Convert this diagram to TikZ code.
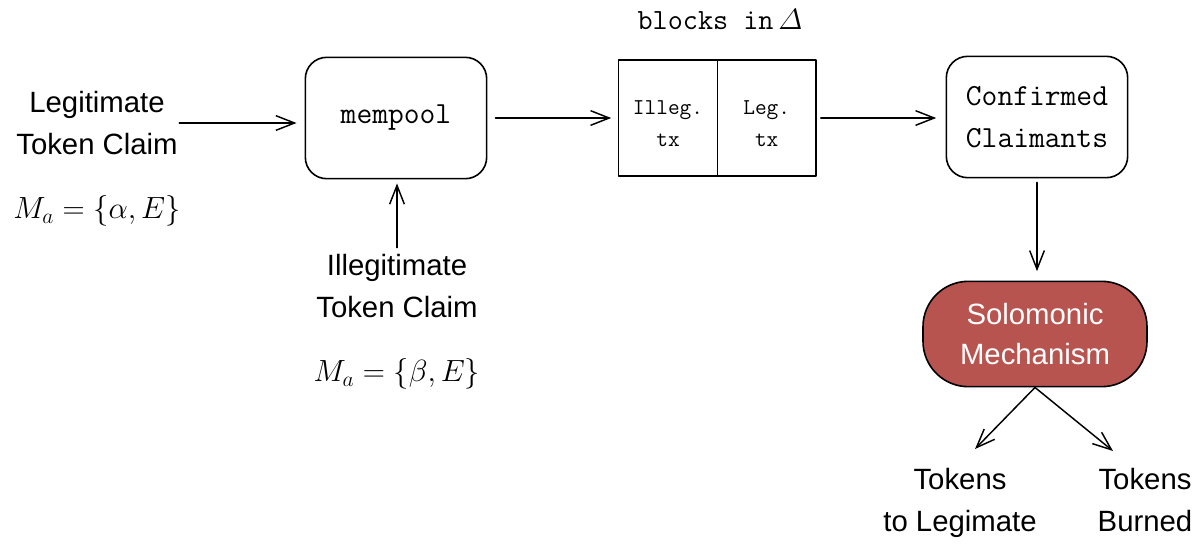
\documentclass[tikz,border=0pt]{standalone}
\usepackage{fix-cm}
\usepackage{amsmath}
\usepackage{fontspec}
\setsansfont{Liberation Sans}
\usetikzlibrary{arrows.meta,positioning}
\definecolor{merahsolomon}{HTML}{B85450}

\begin{document}
\begin{tikzpicture}[line join=round, line cap=round]
    % Satu satuan = satu piksel (sumbu y ke bawah)
    \tikzset{
      x={(0.75pt,0pt)},
      y={(0pt,-0.75pt)},
      teks/.style={font=\sffamily\fontsize{22}{31}\selectfont, align=center, inner sep=1pt},
      rumus/.style={font=\fontsize{23}{28}\selectfont, inner sep=1pt},
      kotak/.style={draw, line width=1.2pt, rounded corners=16pt, minimum width=136pt,
        minimum height=91pt, inner sep=0pt, align=center,
        font=\ttfamily\fontsize{23}{31.5}\selectfont},
      blok/.style={draw, line width=1.2pt, minimum width=74pt, minimum height=87pt,
        inner sep=0pt, align=center, font=\ttfamily\fontsize{17}{24}\selectfont},
      solomon/.style={draw, line width=1.2pt, fill=merahsolomon, text=white,
        rounded corners=34pt, minimum width=168pt, minimum height=79pt, inner sep=0pt,
        align=center, font=\sffamily\fontsize{22}{30}\selectfont},
      panah/.style={-{Straight Barb[length=14pt,width=11pt]}, line width=1.1pt}
    }
    \useasboundingbox (0,0) rectangle (1203,544);

    % Klaim token yang sah
    \node[teks] (sah) at (97,123) {Legitimate\\Token Claim};
    \node[rumus] (msah) at (97,211) {$M_a = \{\alpha, E\}$};

    % Mempool
    \node[kotak] (mempool) at (396,118) {mempool};

    % Klaim token yang tidak sah
    \node[teks] (tidaksah) at (397,286) {Illegitimate\\Token Claim};
    \node[rumus] (mtidaksah) at (397,374) {$M_a = \{\beta, E\}$};

    % Blok dalam Delta (teks sedikit turun dengan strut)
    \node[blok] (illeg) at (668,118) {\rule{0pt}{19pt}Illeg.\\tx};
    \node[blok, right=-1.2pt of illeg] (leg) {\rule{0pt}{19pt}Leg.\\tx};
    \node[font=\ttfamily\fontsize{22}{26}\selectfont] (judulblok) at (720,20) {blocks in$\,\varDelta$};

    % Klaim terkonfirmasi dan mekanisme Solomonik
    \node[kotak] (konfirmasi) at (1037,117) {Confirmed\\Claimants};
    \node[solomon] (mekanisme) at (1035,334) {Solomonic\\Mechanism};

    % Hasil akhir token
    \node[teks] (kembali) at (960,503) {Tokens\\to Legimate};
    \node[teks] (bakar) at (1145,500) {Tokens\\Burned};
    \coordinate (ujungkiri) at (975,449);
    \coordinate (ujungkanan) at (1113,451);

    % Panah-panah alur
    \draw[panah, shorten >=6pt] (sah.east) -- (sah.east -| mempool.west);
    \draw[panah, shorten <=6pt, shorten >=5pt] (mempool.east) -- (illeg.west);
    \draw[panah, shorten <=3pt, shorten >=7pt] (leg.east) -- (leg.east -| konfirmasi.west);
    \draw[panah, shorten <=3pt, shorten >=7pt] (konfirmasi.south) -- (konfirmasi.south |- mekanisme.north);
    \draw[panah, shorten <=4pt, shorten >=3pt] (tidaksah.north) -- (tidaksah.north |- mempool.south);
    \draw[panah] (mekanisme.south) -- (ujungkiri);
    \draw[panah] (mekanisme.south) -- (ujungkanan);
  \end{tikzpicture}
\end{document}
